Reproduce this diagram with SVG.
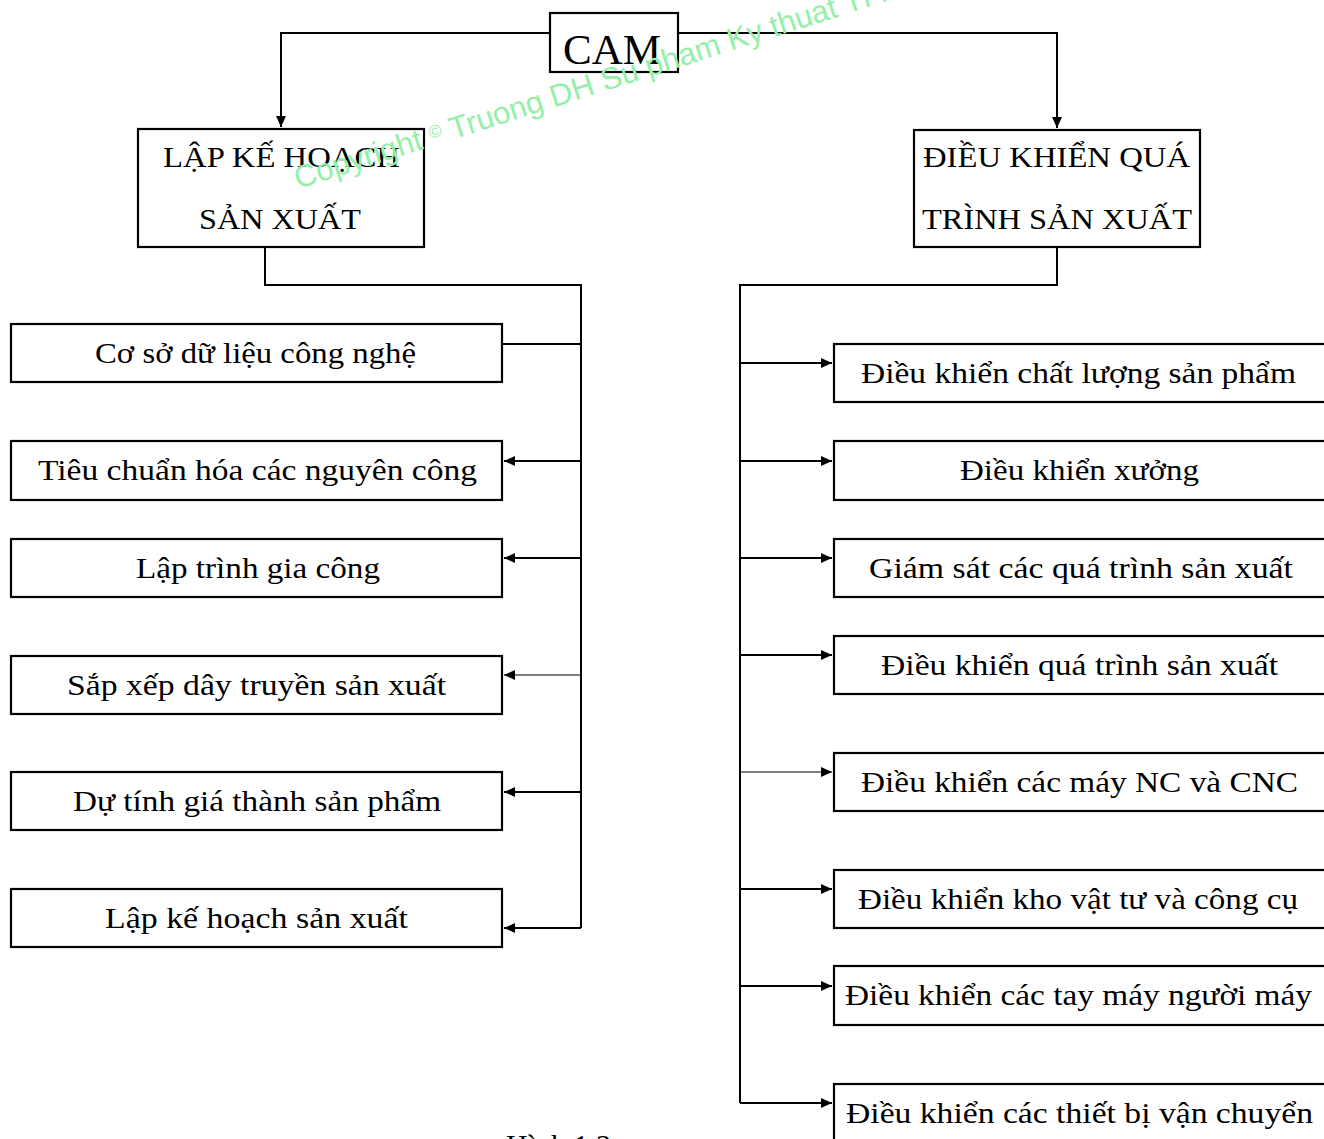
<svg xmlns="http://www.w3.org/2000/svg" width="1324" height="1139" viewBox="0 0 1324 1139">
<style>
.box{fill:#fff;stroke:#000;stroke-width:2.2}
.t{font-family:"Liberation Serif","Times New Roman",serif;font-size:29px;fill:#000}
.h{font-family:"Liberation Serif","Times New Roman",serif;font-size:30px;fill:#000}
.c{fill:none;stroke:#000;stroke-width:2}
.thin{fill:none;stroke:#000;stroke-width:1.2}
.wm{font-family:"Liberation Sans",Arial,sans-serif;font-size:31px;fill:#94f0a8}
</style>
<defs>
<marker id="ah" markerUnits="userSpaceOnUse" markerWidth="12" markerHeight="10" refX="11" refY="5" orient="auto">
<path d="M0,0 L11,5 L0,10 Z" fill="#000"/>
</marker>
</defs>
<rect width="1324" height="1139" fill="#fff"/>

<g id="connectors">
<path class="c" d="M550,33 H281 V127" marker-end="url(#ah)"/>
<path class="c" d="M678,33 H1057 V128" marker-end="url(#ah)"/>
<path class="c" d="M265,247 V285 H581 V928"/>
<path class="c" d="M1057,247 V285 H740 V1103"/>
<path class="c" d="M581,344 H503"/>
<path class="c" d="M581,461 H504" marker-end="url(#ah)"/>
<path class="c" d="M581,558 H504" marker-end="url(#ah)"/>
<path class="thin" d="M581,675 H504" marker-end="url(#ah)"/>
<path class="c" d="M581,792 H504" marker-end="url(#ah)"/>
<path class="c" d="M581,928 H504" marker-end="url(#ah)"/>
<path class="c" d="M740,363 H832" marker-end="url(#ah)"/>
<path class="c" d="M740,461 H832" marker-end="url(#ah)"/>
<path class="c" d="M740,558 H832" marker-end="url(#ah)"/>
<path class="c" d="M740,655 H832" marker-end="url(#ah)"/>
<path class="thin" d="M740,772 H832" marker-end="url(#ah)"/>
<path class="c" d="M740,889 H832" marker-end="url(#ah)"/>
<path class="c" d="M740,986 H832" marker-end="url(#ah)"/>
<path class="c" d="M740,1103 H832" marker-end="url(#ah)"/>
</g>

<g id="cam">
<rect class="box" x="550" y="13" width="128" height="59"/>
<text x="563" y="64" font-family="Liberation Serif, serif" font-size="42" textLength="98" lengthAdjust="spacingAndGlyphs">CAM</text>
</g>

<g id="lap-ke-hoach">
<rect class="box" x="138" y="129" width="286" height="118"/>
<text class="h" x="163" y="167" textLength="237" lengthAdjust="spacingAndGlyphs">LẬP KẾ HOẠCH</text>
<text class="h" x="199" y="229" textLength="162" lengthAdjust="spacingAndGlyphs">SẢN XUẤT</text>
</g>

<g id="dieu-khien-qua-trinh">
<rect class="box" x="914" y="130" width="286" height="117"/>
<text class="h" x="923" y="167" textLength="267" lengthAdjust="spacingAndGlyphs">ĐIỀU KHIỂN QUÁ</text>
<text class="h" x="922" y="229" textLength="270" lengthAdjust="spacingAndGlyphs">TRÌNH SẢN XUẤT</text>
</g>

<g id="l1"><rect class="box" x="11" y="324" width="491" height="58"/><text class="t" x="95" y="363" textLength="321" lengthAdjust="spacingAndGlyphs">Cơ sở dữ liệu công nghệ</text></g>
<g id="l2"><rect class="box" x="11" y="441" width="491" height="59"/><text class="t" x="38" y="480" textLength="439" lengthAdjust="spacingAndGlyphs">Tiêu chuẩn hóa các nguyên công</text></g>
<g id="l3"><rect class="box" x="11" y="539" width="491" height="58"/><text class="t" x="136" y="578" textLength="244" lengthAdjust="spacingAndGlyphs">Lập trình gia công</text></g>
<g id="l4"><rect class="box" x="11" y="656" width="491" height="58"/><text class="t" x="67" y="695" textLength="379" lengthAdjust="spacingAndGlyphs">Sắp xếp dây truyền sản xuất</text></g>
<g id="l5"><rect class="box" x="11" y="772" width="491" height="58"/><text class="t" x="73" y="811" textLength="368" lengthAdjust="spacingAndGlyphs">Dự tính giá thành sản phẩm</text></g>
<g id="l6"><rect class="box" x="11" y="889" width="491" height="58"/><text class="t" x="105" y="928" textLength="303" lengthAdjust="spacingAndGlyphs">Lập kế hoạch sản xuất</text></g>

<g id="r1"><rect class="box" x="834" y="344" width="500" height="58"/><text class="t" x="861" y="383" textLength="435" lengthAdjust="spacingAndGlyphs">Điều khiển chất lượng sản phẩm</text></g>
<g id="r2"><rect class="box" x="834" y="441" width="500" height="59"/><text class="t" x="960" y="480" textLength="239" lengthAdjust="spacingAndGlyphs">Điều khiển xưởng</text></g>
<g id="r3"><rect class="box" x="834" y="539" width="500" height="58"/><text class="t" x="869" y="578" textLength="424" lengthAdjust="spacingAndGlyphs">Giám sát các quá trình sản xuất</text></g>
<g id="r4"><rect class="box" x="834" y="636" width="500" height="58"/><text class="t" x="881" y="675" textLength="397" lengthAdjust="spacingAndGlyphs">Điều khiển quá trình sản xuất</text></g>
<g id="r5"><rect class="box" x="834" y="753" width="500" height="58"/><text class="t" x="861" y="792" textLength="437" lengthAdjust="spacingAndGlyphs">Điều khiển các máy NC và CNC</text></g>
<g id="r6"><rect class="box" x="834" y="870" width="500" height="58"/><text class="t" x="858" y="909" textLength="440" lengthAdjust="spacingAndGlyphs">Điều khiển kho vật tư và công cụ</text></g>
<g id="r7"><rect class="box" x="834" y="966" width="500" height="59"/><text class="t" x="845" y="1005" textLength="467" lengthAdjust="spacingAndGlyphs">Điều khiển các tay máy người máy</text></g>
<g id="r8"><rect class="box" x="834" y="1084" width="500" height="70"/><text class="t" x="846" y="1123" textLength="467" lengthAdjust="spacingAndGlyphs">Điều khiển các thiết bị vận chuyển</text></g>

<text class="h" x="506" y="1155" font-size="32">Hình 1.3</text>

<text class="wm" transform="translate(298,189) rotate(-17.7)">Copyright <tspan font-size="18" dy="-7">©</tspan><tspan dy="7"> Truong DH Su pham Ky thuat TP. HCM</tspan></text>
</svg>
